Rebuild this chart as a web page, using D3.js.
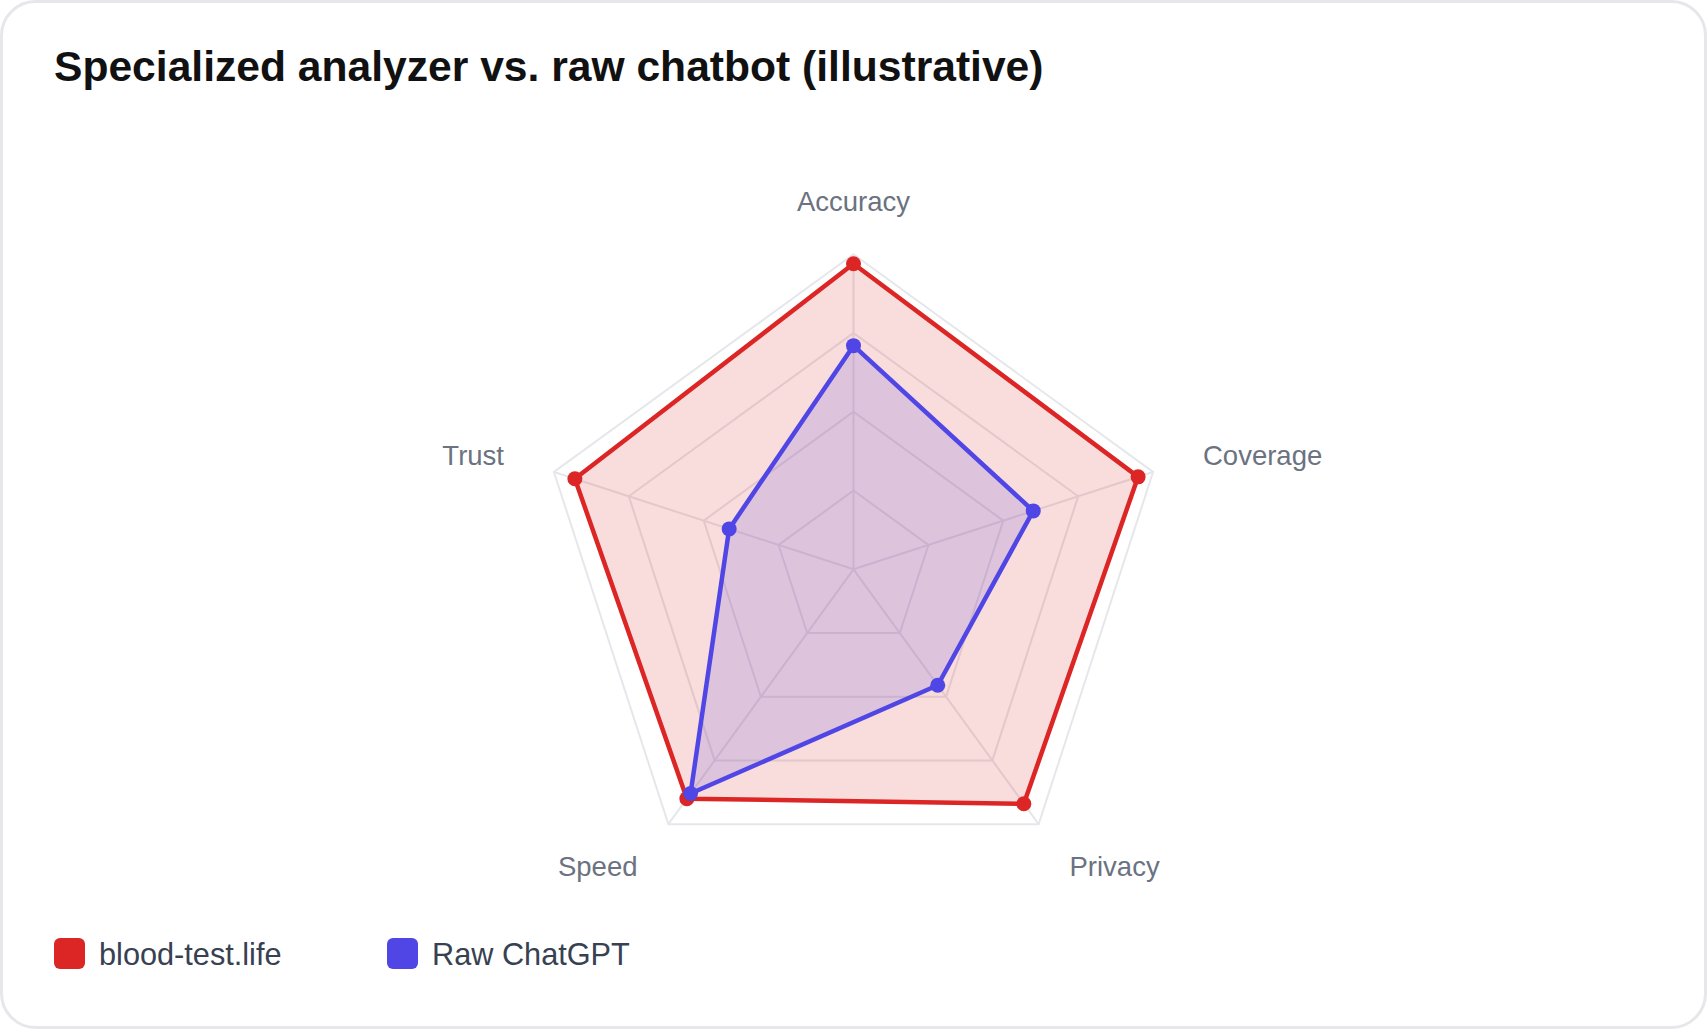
<!DOCTYPE html>
<meta charset="utf-8">
<style>
body { margin: 0; background: #fff; }
svg text { font-family: "Liberation Sans", Arial, Helvetica, sans-serif; }
</style>
<svg width="1707" height="1029"></svg>
<script src="https://d3js.org/d3.v7.min.js"></script>
<script>
var axes = ["Accuracy", "Coverage", "Privacy", "Speed", "Trust"];
var seriesNames = ["blood-test.life", "Raw ChatGPT"];
var bloodTest = [97, 95, 92, 90, 93];
var rawChatGPT = [71, 60, 45.5, 88, 41.5];
var ringTicks = [25, 50, 75, 100];
</script>
<script>
var svg = d3.select("svg"),
    width = +svg.attr("width"),
    height = +svg.attr("height");

var cx = 853.5, cy = 569.3, R = 315;
var colors = ["#dc2626", "#4f46e5"];
var fills = ["rgba(220,38,38,0.16)", "rgba(79,70,229,0.16)"];

// card
svg.append("rect")
    .attr("x", 1.5).attr("y", 1.5)
    .attr("width", width - 3).attr("height", height - 3)
    .attr("rx", 34)
    .attr("fill", "#fff")
    .attr("stroke", "#e5e7eb")
    .attr("stroke-width", 3);

svg.append("text")
    .attr("x", 54).attr("y", 81)
    .attr("font-size", 42.6)
    .attr("font-weight", "bold")
    .attr("fill", "#111")
    .text("Specialized analyzer vs. raw chatbot (illustrative)");

var r = d3.scaleLinear().domain([0, 100]).range([0, R]);
var angle = d3.scaleLinear().domain([0, axes.length]).range([0, 2 * Math.PI]);

function pt(i, v) {
  var a = angle(i) - Math.PI / 2;
  return [cx + r(v) * Math.cos(a), cy + r(v) * Math.sin(a)];
}

var g = svg.append("g");

// rings
g.selectAll("polygon.ring")
  .data(ringTicks)
  .enter().append("polygon")
    .attr("class", "ring")
    .attr("points", function(t) {
      return axes.map(function(d, i) { return pt(i, t).join(","); }).join(" ");
    })
    .attr("fill", "none")
    .attr("stroke", "#e5e7eb")
    .attr("stroke-width", 2);

// spokes
g.selectAll("line.spoke")
  .data(axes)
  .enter().append("line")
    .attr("class", "spoke")
    .attr("x1", cx).attr("y1", cy)
    .attr("x2", function(d, i) { return pt(i, 100)[0]; })
    .attr("y2", function(d, i) { return pt(i, 100)[1]; })
    .attr("stroke", "#e5e7eb")
    .attr("stroke-width", 2);

// axis labels
var labR = 367.5;
g.selectAll("text.axis")
  .data(axes)
  .enter().append("text")
    .attr("class", "axis")
    .attr("x", function(d, i) { return cx + labR * Math.cos(angle(i) - Math.PI / 2); })
    .attr("y", function(d, i) { return cy + labR * Math.sin(angle(i) - Math.PI / 2); })
    .attr("dy", "0.35em")
    .attr("text-anchor", function(d, i) {
      var c = Math.cos(angle(i) - Math.PI / 2);
      return Math.abs(c) < 0.01 ? "middle" : (c > 0 ? "start" : "end");
    })
    .attr("font-size", 27.5)
    .attr("fill", "#6b7280")
    .text(function(d) { return d; });

var line = d3.lineRadial()
    .angle(function(d, i) { return angle(i); })
    .radius(function(d) { return r(d); })
    .curve(d3.curveLinearClosed);

[bloodTest, rawChatGPT].forEach(function(vals, k) {
  var s = g.append("g");
  s.append("path")
      .attr("transform", "translate(" + cx + "," + cy + ")")
      .attr("d", line(vals))
      .attr("fill", fills[k])
      .attr("stroke", colors[k])
      .attr("stroke-width", 4.5)
      .attr("stroke-linejoin", "round");
  s.selectAll("circle")
    .data(vals)
    .enter().append("circle")
      .attr("cx", function(d, i) { return pt(i, d)[0]; })
      .attr("cy", function(d, i) { return pt(i, d)[1]; })
      .attr("r", 7.5)
      .attr("fill", colors[k]);
});

// legend
var legX = [54, 387];
var leg = svg.append("g").selectAll("g")
  .data(seriesNames)
  .enter().append("g")
    .attr("transform", function(d, i) { return "translate(" + legX[i] + ",938)"; });
leg.append("rect")
    .attr("width", 31).attr("height", 31).attr("rx", 6)
    .attr("fill", function(d, i) { return colors[i]; });
leg.append("text")
    .attr("x", 45).attr("y", 16)
    .attr("dy", "0.35em")
    .attr("font-size", 30.7)
    .attr("fill", "#374151")
    .text(function(d) { return d; });
</script>
